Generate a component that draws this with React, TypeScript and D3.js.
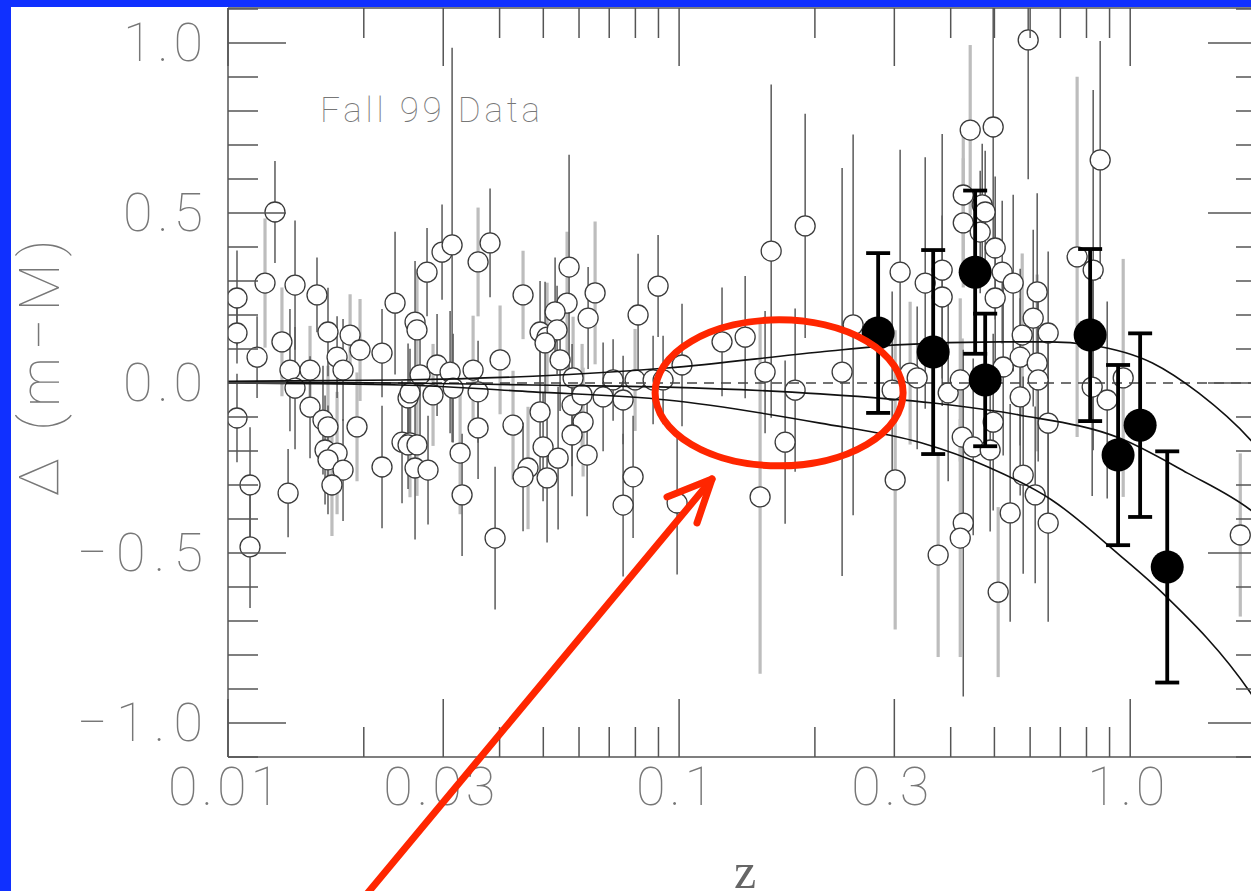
import React from "react";
import * as d3 from "d3";

// Individual supernovae: redshift, residual Δ(m−M), 1σ error, bar style (0 thin dark, 1 wide pale)
const openZ = [
  0.01047, 0.01047, 0.01047, 0.01119, 0.01119, 0.01208, 0.01271, 0.01408, 0.01575, 0.02346,
  0.01317, 0.01666, 0.01865, 0.0116, 0.01745, 0.01962, 0.02195, 0.01372, 0.0152, 0.01799,
  0.01408, 0.0152, 0.01624, 0.01666, 0.01932, 0.01641, 0.01745, 0.01666, 0.01799, 0.02195,
  0.02431, 0.02532, 0.02598, 0.02507, 0.017, 0.01359, 0.02762, 0.02982, 0.03139, 0.03584,
  0.0381, 0.04509, 0.05703, 0.06513, 0.08983, 0.16, 0.1903, 0.02598, 0.02624, 0.05645,
  0.0531, 0.06285, 0.08111, 0.04918, 0.05097, 0.05364, 0.05045, 0.05447, 0.0401, 0.02907,
  0.03107, 0.03494, 0.02665, 0.05821, 0.0714, 0.07987, 0.08757, 0.09215, 0.1015, 0.1245,
  0.1401, 0.1551, 0.1808, 0.02532, 0.02848, 0.03155, 0.03584, 0.05791, 0.06095, 0.06785,
  0.07514, 0.04918, 0.04284, 0.03584, 0.06126, 0.05791, 0.04994, 0.02507, 0.02624, 0.0327,
  0.05392, 0.06253, 0.02776, 0.04625, 0.04509, 0.05097, 0.07907, 0.1718, 0.03303, 0.07514,
  0.1512, 0.03909, 0.09899, 0.5941, 0.4419, 0.4969, 0.8579, 0.4265, 0.4698, 0.477,
  0.4265, 0.465, 0.502, 0.309, 0.3512, 0.383, 0.7627, 0.8278, 0.5203, 0.5503,
  0.622, 0.2431, 0.2298, 0.383, 0.502, 0.6095, 0.5762, 0.6579, 0.5703, 0.622,
  0.6252, 0.5229, 0.3252, 0.3371, 0.2967, 0.3949, 0.42, 0.5703, 0.8236, 0.9649,
  0.8892, 0.6579, 0.4969, 0.4243, 0.4487, 0.4893, 0.3013, 0.5791, 0.6157, 0.5419,
  0.4265, 0.42, 0.6579, 0.3752, 0.5097, 1.754,
];
const openDelta = [
  0.25, 0.147, -0.103, -0.3, -0.482, 0.294, 0.503, 0.288, 0.259, 0.235,
  0.121, 0.15, 0.141, 0.076, 0.076, 0.097, 0.088, 0.038, 0.038, 0.038,
  -0.015, -0.071, -0.109, -0.129, -0.129, -0.197, -0.206, -0.226, -0.256, -0.247,
  -0.174, -0.176, -0.25, -0.044, -0.3, -0.324, 0.326, 0.385, 0.406, 0.356,
  0.412, 0.259, 0.341, 0.265, 0.285, 0.388, 0.462, 0.179, 0.156, 0.235,
  0.209, 0.191, 0.2, 0.15, 0.135, 0.156, 0.118, 0.068, 0.068, 0.053,
  0.032, 0.038, 0.024, 0.015, 0.009, 0.009, 0.009, 0.009, 0.053, 0.121,
  0.135, 0.032, -0.021, -0.029, -0.035, -0.015, -0.026, -0.065, -0.035, -0.041,
  -0.05, -0.085, -0.124, -0.132, -0.115, -0.153, -0.188, -0.182, -0.182, -0.206,
  -0.221, -0.212, -0.256, -0.25, -0.276, -0.279, -0.276, -0.174, -0.329, -0.359,
  -0.335, -0.456, -0.353, 1.009, 0.744, 0.753, 0.656, 0.553, 0.524, 0.503,
  0.471, 0.444, 0.397, 0.326, 0.294, 0.332, 0.371, 0.332, 0.326, 0.294,
  0.268, 0.171, 0.032, 0.253, 0.25, 0.191, 0.141, 0.147, 0.076, 0.059,
  0.009, 0.047, 0.029, 0.015, -0.021, -0.029, 0.009, -0.041, -0.012, 0.015,
  -0.05, -0.118, -0.115, -0.159, -0.188, -0.197, -0.285, -0.271, -0.329, -0.382,
  -0.412, -0.456, -0.412, -0.506, -0.615, -0.447,
];
const openSigma = [
  0.14, 0.09, 0.13, 0.17, 0.18, 0.19, 0.15, 0.19, 0.11, 0.21,
  0.16, 0.13, 0.12, 0.12, 0.12, 0.15, 0.13, 0.18, 0.13, 0.15,
  0.18, 0.15, 0.16, 0.18, 0.16, 0.16, 0.18, 0.16, 0.15, 0.18,
  0.18, 0.16, 0.21, 0.16, 0.15, 0.13, 0.13, 0.14, 0.58, 0.16,
  0.16, 0.13, 0.33, 0.21, 0.15, 0.49, 0.33, 0.18, 0.18, 0.21,
  0.16, 0.15, 0.18, 0.15, 0.16, 0.13, 0.18, 0.15, 0.16, 0.15,
  0.18, 0.16, 0.18, 0.18, 0.12, 0.15, 0.13, 0.13, 0.18, 0.16,
  0.18, 0.18, 0.24, 0.13, 0.15, 0.16, 0.15, 0.18, 0.15, 0.16,
  0.13, 0.18, 0.16, 0.15, 0.16, 0.18, 0.16, 0.13, 0.15, 0.18,
  0.21, 0.18, 0.16, 0.18, 0.16, 0.19, 0.18, 0.24, 0.18, 0.21,
  0.52, 0.21, 0.21, 0.41, 0.25, 0.35, 0.35, 0.21, 0.18, 0.18,
  0.19, 0.18, 0.21, 0.36, 0.37, 0.4, 0.53, 0.53, 0.21, 0.26,
  0.29, 0.56, 0.6, 0.24, 0.24, 0.26, 0.24, 0.24, 0.26, 0.26,
  0.24, 0.26, 0.21, 0.21, 0.29, 0.26, 0.24, 0.29, 0.32, 0.35,
  0.29, 0.29, 0.26, 0.29, 0.26, 0.24, 0.44, 0.29, 0.26, 0.32,
  0.51, 0.35, 0.29, 0.3, 0.25, 0.24,
];
const openSet = [
  0, 0, 0, 0, 0, 1, 0, 0, 0, 0,
  1, 0, 1, 0, 0, 1, 0, 0, 1, 0,
  0, 0, 0, 1, 1, 0, 1, 0, 0, 0,
  0, 1, 0, 0, 1, 0, 0, 0, 0, 1,
  0, 1, 0, 1, 0, 0, 0, 0, 1, 1,
  0, 0, 0, 0, 1, 0, 0, 0, 1, 0,
  0, 1, 0, 1, 0, 1, 0, 0, 0, 0,
  0, 0, 0, 0, 1, 0, 0, 0, 1, 0,
  0, 0, 1, 0, 1, 0, 0, 0, 1, 1,
  0, 0, 0, 1, 0, 0, 0, 0, 0, 0,
  1, 0, 0, 0, 1, 0, 0, 1, 0, 0,
  1, 0, 0, 0, 0, 0, 1, 0, 0, 0,
  0, 0, 0, 0, 0, 0, 1, 0, 0, 1,
  0, 0, 1, 0, 0, 0, 1, 0, 0, 1,
  0, 0, 0, 1, 0, 0, 1, 0, 0, 0,
  0, 1, 0, 1, 1, 1,
];

// Binned high-redshift averages
const binZ = [0.2762, 0.3658, 0.4532, 0.477, 0.815, 0.94, 1.052, 1.208];
const binDelta = [0.147, 0.091, 0.326, 0.009, 0.141, -0.212, -0.124, -0.541];
const binSigma = [0.235, 0.3, 0.24, 0.195, 0.253, 0.265, 0.27, 0.34];

// Model curves relative to an empty universe
const upperZ = [0.01, 0.0241, 0.0474, 0.094, 0.2054, 0.304, 0.513, 0.665, 0.815, 1.12, 1.42, 1.85, 2.0];
const upperDelta = [0.005, 0.009, 0.02, 0.044, 0.091, 0.112, 0.121, 0.121, 0.112, 0.059, -0.03, -0.168, -0.22];
const middleZ = [0.01, 0.0241, 0.0474, 0.094, 0.2054, 0.366, 0.567, 0.947, 1.34, 1.85, 2.0];
const middleDelta = [0.003, 0.0, -0.006, -0.012, -0.032, -0.059, -0.094, -0.162, -0.265, -0.374, -0.41];
const lowerZ = [0.01, 0.0241, 0.0474, 0.094, 0.2054, 0.344, 0.484, 0.67, 0.947, 1.18, 1.85, 2.0];
const lowerDelta = [0.0, -0.006, -0.026, -0.05, -0.118, -0.176, -0.247, -0.344, -0.506, -0.618, -0.912, -0.98];

// Axis ticks
const xMajor = [0.01, 0.03, 0.1, 0.3, 1.0];
const xMajorLabels = ["0.01", "0.03", "0.1", "0.3", "1.0"];
const xMinor = [0.02, 0.04, 0.05, 0.06, 0.07, 0.08, 0.09, 0.2, 0.4, 0.5, 0.6, 0.7, 0.8, 0.9, 2.0];
const yMajor = [1.0, 0.5, 0.0, -0.5, -1.0];
const yMajorLabels = ["1.0", "0.5", "0.0", "\u22120.5", "\u22121.0"];
const yMinor = [1.1, 0.9, 0.8, 0.7, 0.6, 0.4, 0.3, 0.2, 0.1, -0.1, -0.2, -0.3, -0.4, -0.6, -0.7, -0.8, -0.9, -1.1];

const W = 1251;
const H = 891;
const X0 = 228;
const X1 = 1266;
const Y0 = 9;
const Y1 = 757;

const AXIS = "#555";
const LABEL = "#777";
const FONT = "Roboto, 'DejaVu Sans', sans-serif";

export default function App() {
  const x = d3.scaleLog().domain([0.01, 2.0]).range([X0, X1]);
  const y = d3.scaleLinear().domain([-1.1, 1.1]).range([Y1, Y0]);

  const line = d3
    .line<[number, number]>()
    .x((d) => x(d[0]))
    .y((d) => y(d[1]))
    .curve(d3.curveMonotoneX);

  const zip = (a: number[], b: number[]) => a.map((v, i) => [v, b[i]] as [number, number]);

  const idx = openZ.map((_, i) => i);
  const pale = idx.filter((i) => openSet[i] === 1);
  const dark = idx.filter((i) => openSet[i] === 0);

  const ellipseC = { x: x(0.1666), y: y(-0.029) };

  return (
    <svg
      width={W}
      height={H}
      viewBox={`0 0 ${W} ${H}`}
      style={{ position: "absolute", left: 0, top: 0, display: "block" }}
    >
      <rect x={0} y={0} width={W} height={H} fill="#1030ff" />
      <rect x={11} y={7} width={W - 11} height={H - 7} fill="#ffffff" />
      <defs>
        <clipPath id="plotArea">
          <rect x={X0} y={Y0 - 1} width={X1 - X0} height={Y1 - Y0 + 1} />
        </clipPath>
      </defs>

      <g clipPath="url(#plotArea)">
        {pale.map((i) => (
          <line
            key={`p${i}`}
            x1={x(openZ[i])}
            x2={x(openZ[i])}
            y1={y(openDelta[i] + openSigma[i])}
            y2={y(openDelta[i] - openSigma[i])}
            stroke="#bdbdbd"
            strokeWidth={3.2}
          />
        ))}
        {dark.map((i) => (
          <line
            key={`d${i}`}
            x1={x(openZ[i])}
            x2={x(openZ[i])}
            y1={y(openDelta[i] + openSigma[i])}
            y2={y(openDelta[i] - openSigma[i])}
            stroke="#5a5a5a"
            strokeWidth={1.5}
          />
        ))}
        {idx.map((i) => (
          <circle
            key={`c${i}`}
            cx={x(openZ[i])}
            cy={y(openDelta[i])}
            r={10}
            fill="#ffffff"
            stroke="#3a3a3a"
            strokeWidth={1.3}
          />
        ))}
        <line
          x1={X0}
          x2={X1}
          y1={y(0)}
          y2={y(0)}
          stroke="#444"
          strokeWidth={1.3}
          strokeDasharray="10,7"
        />
        {[zip(upperZ, upperDelta), zip(middleZ, middleDelta), zip(lowerZ, lowerDelta)].map((pts, k) => (
          <path key={`m${k}`} d={line(pts) || ""} fill="none" stroke="#111" strokeWidth={1.6} />
        ))}
      </g>

      {/* frame */}
      <g stroke={AXIS} strokeWidth={1.5} fill="none">
        <line x1={X0} x2={X0} y1={Y0 - 1} y2={Y1} />
        <line x1={X0} x2={X1} y1={Y1} y2={Y1} />
        <line x1={X0} x2={X1} y1={Y0 - 1} y2={Y0 - 1} />
        <line x1={X1} x2={X1} y1={Y0 - 1} y2={Y1} />
        {xMajor.map((v) => (
          <g key={`xM${v}`}>
            <line x1={x(v)} x2={x(v)} y1={Y1} y2={Y1 - 58} />
            <line x1={x(v)} x2={x(v)} y1={Y0 - 1} y2={Y0 + 57} />
          </g>
        ))}
        {xMinor.map((v) => (
          <g key={`xm${v}`}>
            <line x1={x(v)} x2={x(v)} y1={Y1} y2={Y1 - 30} />
            <line x1={x(v)} x2={x(v)} y1={Y0 - 1} y2={Y0 + 29} />
          </g>
        ))}
        {yMajor.map((v) => (
          <g key={`yM${v}`}>
            <line x1={X0} x2={X0 + 58} y1={y(v)} y2={y(v)} />
            <line x1={X1} x2={X1 - 58} y1={y(v)} y2={y(v)} />
          </g>
        ))}
        {yMinor.map((v) => (
          <g key={`ym${v}`}>
            <line x1={X0} x2={X0 + 30} y1={y(v)} y2={y(v)} />
            <line x1={X1} x2={X1 - 30} y1={y(v)} y2={y(v)} />
          </g>
        ))}
      </g>

      {/* binned points */}
      <g clipPath="url(#plotArea)">
        {binZ.map((z, i) => {
          const cx = x(z);
          const top = y(binDelta[i] + binSigma[i]);
          const bot = y(binDelta[i] - binSigma[i]);
          return (
            <g key={`b${i}`} stroke="#000" strokeWidth={3.8}>
              <line x1={cx} x2={cx} y1={top} y2={bot} />
              <line x1={cx - 12} x2={cx + 12} y1={top} y2={top} />
              <line x1={cx - 12} x2={cx + 12} y1={bot} y2={bot} />
            </g>
          );
        })}
        {binZ.map((z, i) => (
          <circle key={`bc${i}`} cx={x(z)} cy={y(binDelta[i])} r={16.5} fill="#000" />
        ))}
      </g>

      {/* tick labels */}
      <g fill={LABEL} fontFamily={FONT} fontWeight={100} fontSize={54}>
        {yMajor.map((v, i) => {
          const lab = yMajorLabels[i];
          return (
            <text
              key={`yl${v}`}
              x={203}
              y={y(v) + 18}
              textAnchor="end"
              textLength={lab.length === 4 ? 126 : 80}
              lengthAdjust="spacing"
            >
              {lab}
            </text>
          );
        })}
        {xMajor.map((v, i) => {
          const lab = xMajorLabels[i];
          return (
            <text
              key={`xl${v}`}
              x={x(v) - 4}
              y={805}
              textAnchor="middle"
              textLength={lab.length === 4 ? 112 : 78}
              lengthAdjust="spacing"
            >
              {lab}
            </text>
          );
        })}
      </g>

      <text
        x={320}
        y={122}
        fill="#777"
        fontFamily={FONT}
        fontWeight={100}
        fontSize={35}
        textLength={220}
        lengthAdjust="spacing"
      >
        Fall 99 Data
      </text>

      <text
        transform="translate(59,368) rotate(-90)"
        fill={LABEL}
        fontFamily={FONT}
        fontWeight={100}
        fontSize={56}
        textAnchor="middle"
        textLength={257}
        lengthAdjust="spacing"
      >
        {"\u0394 (m\u2212M)"}
      </text>

      <text
        x={745}
        y={888}
        fill="#666"
        fontFamily="'Liberation Serif', serif"
        fontSize={50}
        textAnchor="middle"
      >
        z
      </text>

      {/* highlight */}
      <g fill="none" stroke="#ff2600" strokeWidth={7} strokeLinecap="round" strokeLinejoin="round">
        <ellipse cx={ellipseC.x} cy={ellipseC.y} rx={124} ry={73} />
        <line x1={366} y1={895} x2={712} y2={479} />
        <polyline points="667,497 712,479 697,523" />
      </g>
    </svg>
  );
}
